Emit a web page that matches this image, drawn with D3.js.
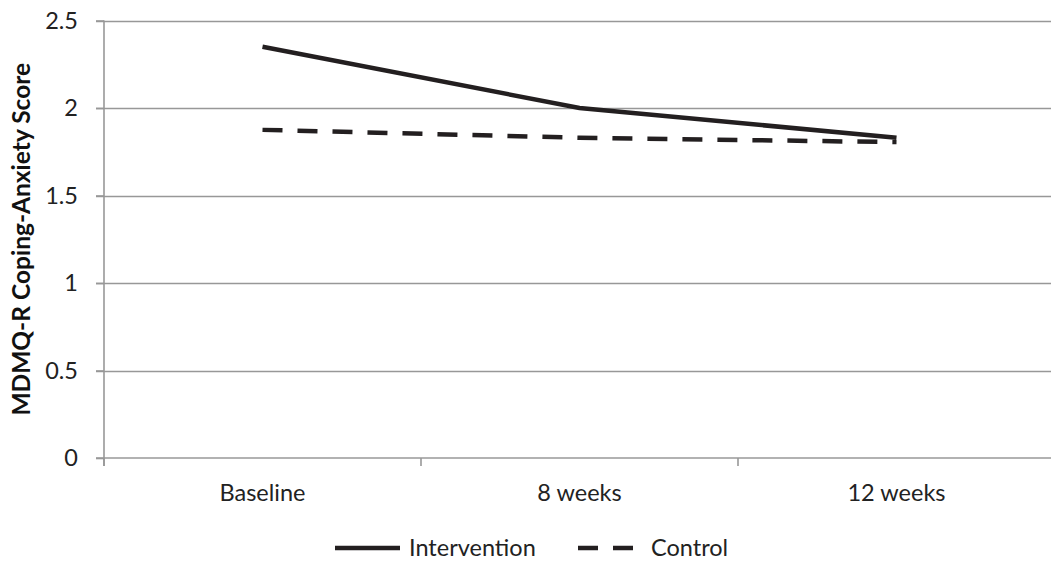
<!DOCTYPE html>
<html>
<head>
<meta charset="utf-8">
<script src="https://cdn.jsdelivr.net/npm/d3@7"></script>
<style>
  html, body { margin: 0; padding: 0; background: #fff; }
  svg { display: block; font-family: Lato, "Open Sans", sans-serif; }
</style>
</head>
<body>
<svg id="chart" width="1051" height="565"></svg>
<script>
// Time points and mean MDMQ-R coping-anxiety scores per group
const timepoints = ["Baseline", "8 weeks", "12 weeks"];
const intervention = [2.35, 2.0, 1.83];
const control = [1.875, 1.83, 1.805];
const yTicks = [0, 0.5, 1, 1.5, 2, 2.5];
const seriesNames = ["Intervention", "Control"];

const svg = d3.select("#chart");
const W = 1051, H = 565;
const plotLeft = 104, plotRight = 1055, plotTop = 20.5, plotBottom = 458;
const fontSize = "23.5px";

const x = d3.scaleBand().domain(timepoints)
  .range([plotLeft, plotRight]).padding(0);
const y = d3.scaleLinear().domain([0, 2.5])
  .range([plotBottom, plotTop]);

const gridColor = "#989898";
const textColor = "#222";

// Horizontal gridlines
svg.append("g").selectAll("line").data(yTicks.filter(d => d > 0)).join("line")
  .attr("x1", plotLeft - 8).attr("x2", W)
  .attr("y1", d => Math.round(y(d)) + 0.5).attr("y2", d => Math.round(y(d)) + 0.5)
  .attr("stroke", gridColor).attr("stroke-width", 1.6);

// Y axis
const yAxis = svg.append("g")
  .attr("transform", `translate(${plotLeft},0)`)
  .call(d3.axisLeft(y).tickValues(yTicks).tickSize(8).tickPadding(18)
    .tickFormat(d3.format("")));
yAxis.select(".domain").attr("stroke", gridColor).attr("stroke-width", 1.6)
  .attr("d", `M0,${y(2.5)}V${y(0) + 8}`);
yAxis.selectAll(".tick line").attr("stroke", gridColor).attr("stroke-width", 1.6);
yAxis.selectAll(".tick text").attr("fill", textColor).style("font-size", fontSize)
  .style("font-family", "Lato, sans-serif");

// X axis with ticks on band boundaries
const xAxisG = svg.append("g").attr("transform", `translate(0,${y(0)})`);
xAxisG.append("line")
  .attr("x1", plotLeft - 8).attr("x2", W)
  .attr("stroke", gridColor).attr("stroke-width", 1.6);
const bounds = timepoints.map(d => x(d));
xAxisG.selectAll("line.tk").data(bounds).join("line").attr("class", "tk")
  .attr("x1", d => d).attr("x2", d => d).attr("y1", 0).attr("y2", 8)
  .attr("stroke", gridColor).attr("stroke-width", 1.6);
xAxisG.selectAll("text").data(timepoints).join("text")
  .attr("x", d => x(d) + x.bandwidth() / 2).attr("y", 43)
  .attr("text-anchor", "middle").attr("fill", textColor)
  .style("font-size", fontSize).text(d => d);

// Y axis title
svg.append("text")
  .attr("transform", `translate(30,${(y(0) + y(2.5)) / 2}) rotate(-90)`)
  .attr("text-anchor", "middle").attr("fill", "#111")
  .style("font-size", "24.5px").style("font-weight", "bold")
  .text("MDMQ-R Coping-Anxiety Score");

// Series lines
const line = d3.line()
  .x((d, i) => x(timepoints[i]) + x.bandwidth() / 2)
  .y(d => y(d));

svg.append("path").datum(intervention)
  .attr("d", line).attr("fill", "none")
  .attr("stroke", "#231f20").attr("stroke-width", 4.5);
svg.append("path").datum(control)
  .attr("d", line).attr("fill", "none")
  .attr("stroke", "#231f20").attr("stroke-width", 4.5)
  .attr("stroke-dasharray", "20,15");

// Legend
const legendY = 548;
const legend = svg.append("g");
legend.append("line").attr("x1", 335).attr("x2", 400)
  .attr("y1", legendY).attr("y2", legendY)
  .attr("stroke", "#231f20").attr("stroke-width", 4.5);
legend.append("text").attr("x", 409).attr("y", legendY + 8)
  .attr("fill", textColor).style("font-size", fontSize).text(seriesNames[0]);
legend.append("line").attr("x1", 578).attr("x2", 634)
  .attr("y1", legendY).attr("y2", legendY)
  .attr("stroke", "#231f20").attr("stroke-width", 4.5)
  .attr("stroke-dasharray", "20,15");
legend.append("text").attr("x", 651).attr("y", legendY + 8)
  .attr("fill", textColor).style("font-size", fontSize).text(seriesNames[1]);
</script>
</body>
</html>
